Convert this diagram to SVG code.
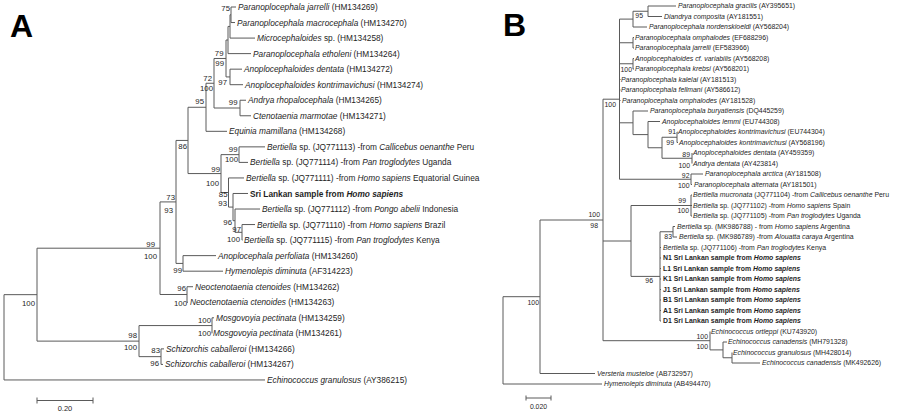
<svg xmlns="http://www.w3.org/2000/svg" width="900" height="417" viewBox="0 0 900 417">
<style>
text{font-family:"Liberation Sans",Arial,sans-serif;fill:#1e1e1e}
.ta{font-size:8.3px}
.tb{font-size:6.9px}
.ba{font-size:7.8px;text-anchor:end}
.bb{font-size:6.9px;text-anchor:end}
.i{font-style:italic}
.b{font-weight:bold}
.lbl{font-size:32px;font-weight:bold;fill:#000}
.ln{fill:none;stroke:#5a5a5a;stroke-width:1}
</style>
<rect width="900" height="417" fill="#fff"/>
<text class="lbl" x="10" y="37">A</text>
<text class="lbl" x="503" y="36">B</text>

<g id="connectors" class="ln">
<path d="M4,294.66V379.96M4,294.66H37M37,248.2V341.11M37,248.2H160M37,341.11H139
M160,201.92V294.49M160,201.92H176M160,294.49H187
M187,286.72V302.26M187,286.72H193M187,302.26H188
M176,140.43V263.41M176,140.43H188M176,263.41H183
M183,255.64V271.18M183,255.64H216M183,271.18H223
M188,107.28V173.57M188,107.28H206M188,173.57H221
M206,83.25V131.32M206,83.25H214M206,131.32H227
M214,58.48V108.01M214,58.48H226M214,108.01H240
M240,100.24V115.78M240,100.24H246M240,115.78H251
M226,40.02V76.93M226,40.02H228M226,76.93H230
M230,69.16V84.7M230,69.16H242M230,84.7H243
M228,26.43V53.62M228,26.43H230M228,53.62H251
M230,14.77V38.08M230,14.77H231M230,38.08H255
M231,7V22.54M231,7H236M231,22.54H235
M221,154.63V192.51M221,154.63H239M221,192.51H228.5
M239,146.86V162.4M239,146.86H265M239,162.4H248
M228.5,177.94V207.08M228.5,177.94H244M228.5,207.08H233
M233,193.48V220.68M233,193.48H248M233,220.68H235
M235,209.02V232.33M235,209.02H260M235,232.33H242
M242,224.56V240.1M242,224.56H255M242,240.1H242.5
M139,325.57V356.65M139,325.57H212M139,356.65H161
M212,317.8V333.34M212,317.8H214
M161,348.88V364.42M161,348.88H164M161,364.42H163
M4,379.96H265"/>
<path d="M37,400.5H93M37,397.5V403.5M93,397.5V403.5"/>
<path d="M503,296.7V384M503,296.7H540M503,384H602
M540,220V373.5M540,220H603M540,373.5H595
M603,99.2V340.7M603,99.2H619.5M603,241H631M603,340.7H710
M619.5,19.1V179.25M619.5,19.1H633M619.5,42.75H633M619.5,63.75H633M619.5,122.8H633M619.5,79.5H620.5M619.5,90H620.5M619.5,100.5H620.5M619.5,179.25H691
M633,11.25V27M633,11.25H648M633,27H647
M648,6V16.5M648,6H676M648,16.5H662
M633,37.5V48M633,37.5H634M633,48H634
M633,58.5V69M633,58.5H634M633,69H634
M633,111V134.6M633,111H648M633,134.6H648
M648,121.5V147.75M648,121.5H660M648,147.75H662
M662,137.25V158.25M662,137.25H677M662,158.25H692
M677,132V142.5M677,132H677.5M677,142.5H678
M692,153V163.5
M691,174V184.5M691,174H703M691,184.5H692
M631,205.5V276.4M631,205.5H691M631,276.4H660
M691,195V216M691,195H692M691,205.5H692M691,216H692
M660,231.75V321M660,231.75H673M660,247.5H661M660,258H661M660,268.5H661M660,279H661M660,289.5H661M660,300H661M660,310.5H661M660,321H661
M673,226.5V237M673,226.5H675M673,237H677
M710,331.5V349.9M710,349.9H723
M723,342V357.75M723,342H727M723,357.75H732
M732,352.5V363M732,363H760"/>
<path d="M526,398H551M526,395.5V400.5M551,395.5V400.5"/>
</g>

<g id="scale-a"><text class="ta" x="65" y="411" text-anchor="middle" style="font-size:7.5px">0.20</text></g>
<g id="scale-b"><text class="tb" x="538.5" y="408.5" text-anchor="middle">0.020</text></g>

<g id="tips-a" class="ta">
<g id="a0"><text x="238" y="10"><tspan class="i">Paranoplocephala jarrelli</tspan> (HM134269)</text></g>
<g id="a1"><text x="237" y="25.5"><tspan class="i">Paranoplocephala macrocephala</tspan> (HM134270)</text></g>
<g id="a2"><text x="257" y="41.1"><tspan class="i">Microcephaloides</tspan> sp. (HM134258)</text></g>
<g id="a3"><text x="253" y="56.6"><tspan class="i">Paranoplocephala etholeni</tspan> (HM134264)</text></g>
<g id="a4"><text x="244" y="72.2"><tspan class="i">Anoplocephaloides dentata</tspan> (HM134272)</text></g>
<g id="a5"><text x="245" y="87.7"><tspan class="i">Anoplocephaloides kontrimavichusi</tspan> (HM134274)</text></g>
<g id="a6"><text x="248" y="103.2"><tspan class="i">Andrya rhopalocephala</tspan> (HM134265)</text></g>
<g id="a7"><text x="253" y="118.8"><tspan class="i">Ctenotaenia marmotae</tspan> (HM134271)</text></g>
<g id="a8"><text x="229" y="134.3"><tspan class="i">Equinia mamillana</tspan> (HM134268)</text></g>
<g id="a9"><text x="267" y="149.9"><tspan class="i">Bertiella</tspan> sp. (JQ771113) -from <tspan class="i">Callicebus oenanthe</tspan> Peru</text></g>
<g id="a10"><text x="250" y="165.4"><tspan class="i">Bertiella</tspan> sp. (JQ771114) -from <tspan class="i">Pan troglodytes</tspan> Uganda</text></g>
<g id="a11"><text x="246" y="180.9"><tspan class="i">Bertiella</tspan> sp. (JQ771111) -from <tspan class="i">Homo sapiens</tspan> Equatorial Guinea</text></g>
<g id="a12"><text x="250" y="196.5" class="b">Sri Lankan sample from <tspan class="i">Homo sapiens</tspan></text></g>
<g id="a13"><text x="262" y="212"><tspan class="i">Bertiella</tspan> sp. (JQ771112) -from <tspan class="i">Pongo abelii</tspan> Indonesia</text></g>
<g id="a14"><text x="257" y="227.6"><tspan class="i">Bertiella</tspan> sp. (JQ771110) -from <tspan class="i">Homo sapiens</tspan> Brazil</text></g>
<g id="a15"><text x="244" y="243.1"><tspan class="i">Bertiella</tspan> sp. (JQ771115) -from <tspan class="i">Pan troglodytes</tspan> Kenya</text></g>
<g id="a16"><text x="218" y="258.6"><tspan class="i">Anoplocephala perfoliata</tspan> (HM134260)</text></g>
<g id="a17"><text x="225" y="274.2"><tspan class="i">Hymenolepis diminuta</tspan> (AF314223)</text></g>
<g id="a18"><text x="195" y="289.7"><tspan class="i">Neoctenotaenia ctenoides</tspan> (HM134262)</text></g>
<g id="a19"><text x="190" y="305.3"><tspan class="i">Neoctenotaenia ctenoides</tspan> (HM134263)</text></g>
<g id="a20"><text x="216" y="320.8"><tspan class="i">Mosgovoyia pectinata</tspan> (HM134259)</text></g>
<g id="a21"><text x="213" y="336.3"><tspan class="i">Mosgovoyia pectinata</tspan> (HM134261)</text></g>
<g id="a22"><text x="166" y="351.9"><tspan class="i">Schizorchis caballeroi</tspan> (HM134266)</text></g>
<g id="a23"><text x="165" y="367.4"><tspan class="i">Schizorchis caballeroi</tspan> (HM134267)</text></g>
<g id="a24"><text x="267" y="383"><tspan class="i">Echinococcus granulosus</tspan> (AY386215)</text></g>
</g>

<g id="support-a" class="ba">
<text x="230" y="10.5">75</text>
<text x="223.5" y="55.5">79</text>
<text x="224" y="65.5">99</text>
<text x="227" y="84.5">97</text>
<text x="212" y="81">72</text>
<text x="213" y="91">100</text>
<text x="237.5" y="104.5">99</text>
<text x="204" y="104">95</text>
<text x="187" y="149">86</text>
<text x="237.5" y="151.5">99</text>
<text x="238" y="161.5">100</text>
<text x="220" y="172">99</text>
<text x="219" y="186">100</text>
<text x="227.5" y="196.5">85</text>
<text x="227" y="206">93</text>
<text x="232" y="224.5">96</text>
<text x="241" y="232">97</text>
<text x="240" y="242">100</text>
<text x="175" y="200">73</text>
<text x="173" y="213">93</text>
<text x="155" y="246.5">99</text>
<text x="157" y="259">100</text>
<text x="182" y="273">99</text>
<text x="186" y="291">96</text>
<text x="187" y="306">100</text>
<text x="211" y="322.5">100</text>
<text x="211" y="336">100</text>
<text x="137" y="338">98</text>
<text x="137" y="350">100</text>
<text x="160" y="353">83</text>
<text x="159" y="366">96</text>
<text x="35" y="306">100</text>
</g>

<g id="tips-b" class="tb">
<g id="b0"><text x="678" y="8.4"><tspan class="i">Paranoplocephala gracilis</tspan> (AY395651)</text></g>
<g id="b1"><text x="664" y="18.9"><tspan class="i">Diandrya composita</tspan> (AY181551)</text></g>
<g id="b2"><text x="649" y="29.4"><tspan class="i">Paranoplocephala nordenskioeldi</tspan> (AY568204)</text></g>
<g id="b3"><text x="635" y="39.9"><tspan class="i">Paranoplocephala omphalodes</tspan> (EF688296)</text></g>
<g id="b4"><text x="635" y="50.4"><tspan class="i">Paranoplocephala jarrelli</tspan> (EF583966)</text></g>
<g id="b5"><text x="635" y="60.9"><tspan class="i">Anoplocephaloides cf. variabilis</tspan> (AY568208)</text></g>
<g id="b6"><text x="635" y="71.4"><tspan class="i">Paranoplocephala krebsi</tspan> (AY568201)</text></g>
<g id="b7"><text x="621" y="81.9"><tspan class="i">Paranoplocephala kalelai</tspan> (AY181513)</text></g>
<g id="b8"><text x="621" y="92.4"><tspan class="i">Paranoplocephala fellmani</tspan> (AY586612)</text></g>
<g id="b9"><text x="622" y="102.9"><tspan class="i">Paranoplocephala omphalodes</tspan> (AY181528)</text></g>
<g id="b10"><text x="650" y="113.4"><tspan class="i">Paranoplocephala buryatiensis</tspan> (DQ445259)</text></g>
<g id="b11"><text x="662" y="123.9"><tspan class="i">Anoplocephaloides lemmi</tspan> (EU744308)</text></g>
<g id="b12"><text x="678" y="134.4"><tspan class="i">Anoplocephaloides kontrimavichusi</tspan> (EU744304)</text></g>
<g id="b13"><text x="679" y="144.9"><tspan class="i">Anoplocephaloides kontrimavichusi</tspan> (AY568196)</text></g>
<g id="b14"><text x="693" y="155.4"><tspan class="i">Anoplocephaloides dentata</tspan> (AY459359)</text></g>
<g id="b15"><text x="693" y="165.9"><tspan class="i">Andrya dentata</tspan> (AY423814)</text></g>
<g id="b16"><text x="705" y="176.4"><tspan class="i">Paranoplocephala arctica</tspan> (AY181508)</text></g>
<g id="b17"><text x="694" y="186.9"><tspan class="i">Paranoplocephala alternata</tspan> (AY181501)</text></g>
<g id="b18"><text x="693" y="197.4"><tspan class="i">Bertiella mucronata</tspan> (JQ771104) -from <tspan class="i">Callicebus oenanthe</tspan> Peru</text></g>
<g id="b19"><text x="693" y="207.9"><tspan class="i">Bertiella</tspan> sp. (JQ771102) -from <tspan class="i">Homo sapiens</tspan> Spain</text></g>
<g id="b20"><text x="693" y="218.4"><tspan class="i">Bertiella</tspan> sp. (JQ771105) -from <tspan class="i">Pan troglodytes</tspan> Uganda</text></g>
<g id="b21"><text x="677" y="228.9"><tspan class="i">Bertiella</tspan> sp. (MK986788) - from <tspan class="i">Homo sapiens</tspan> Argentina</text></g>
<g id="b22"><text x="679" y="239.4"><tspan class="i">Bertiella</tspan> sp. (MK986789) -from <tspan class="i">Alouatta caraya</tspan> Argentina</text></g>
<g id="b23"><text x="663" y="249.9"><tspan class="i">Bertiella</tspan> sp. (JQ771106) -from <tspan class="i">Pan troglodytes</tspan> Kenya</text></g>
<g id="b24"><text x="663" y="260.4" class="b">N1 Sri Lankan sample from <tspan class="i">Homo sapiens</tspan></text></g>
<g id="b25"><text x="663" y="270.9" class="b">L1 Sri Lankan sample from <tspan class="i">Homo sapiens</tspan></text></g>
<g id="b26"><text x="663" y="281.4" class="b">K1 Sri Lankan sample from <tspan class="i">Homo sapiens</tspan></text></g>
<g id="b27"><text x="663" y="291.9" class="b">J1 Sri Lankan sample from <tspan class="i">Homo sapiens</tspan></text></g>
<g id="b28"><text x="663" y="302.4" class="b">B1 Sri Lankan sample from <tspan class="i">Homo sapiens</tspan></text></g>
<g id="b29"><text x="663" y="312.9" class="b">A1 Sri Lankan sample from <tspan class="i">Homo sapiens</tspan></text></g>
<g id="b30"><text x="663" y="323.4" class="b">D1 Sri Lankan sample from <tspan class="i">Homo sapiens</tspan></text></g>
<g id="b31"><text x="711" y="333.9"><tspan class="i">Echinococcus ortleppi</tspan> (KU743920)</text></g>
<g id="b32"><text x="728" y="344.4"><tspan class="i">Echinococcus canadensis</tspan> (MH791328)</text></g>
<g id="b33"><text x="733" y="354.9"><tspan class="i">Echinococcus granulosus</tspan> (MH428014)</text></g>
<g id="b34"><text x="762" y="365.4"><tspan class="i">Echinococcus canadensis</tspan> (MK492626)</text></g>
<g id="b35"><text x="597" y="375.9"><tspan class="i">Versteria musteloe</tspan> (AB732957)</text></g>
<g id="b36"><text x="604" y="386.4"><tspan class="i">Hymenolepis diminuta</tspan> (AB494470)</text></g>
</g>

<g id="support-b" class="bb">
<text x="643" y="17.5">95</text>
<text x="632" y="72">100</text>
<text x="616" y="106.5">100</text>
<text x="676" y="134">91</text>
<text x="674" y="145">99</text>
<text x="690" y="157">89</text>
<text x="690" y="168">100</text>
<text x="689.5" y="178">92</text>
<text x="689.5" y="188">100</text>
<text x="686" y="203">99</text>
<text x="689" y="212.5">100</text>
<text x="672" y="238.5">83</text>
<text x="653" y="283">96</text>
<text x="708" y="338.5">100</text>
<text x="708" y="348.5">100</text>
<text x="600" y="217">100</text>
<text x="598" y="227.5">98</text>
<text x="539" y="305">100</text>
</g>
</svg>
